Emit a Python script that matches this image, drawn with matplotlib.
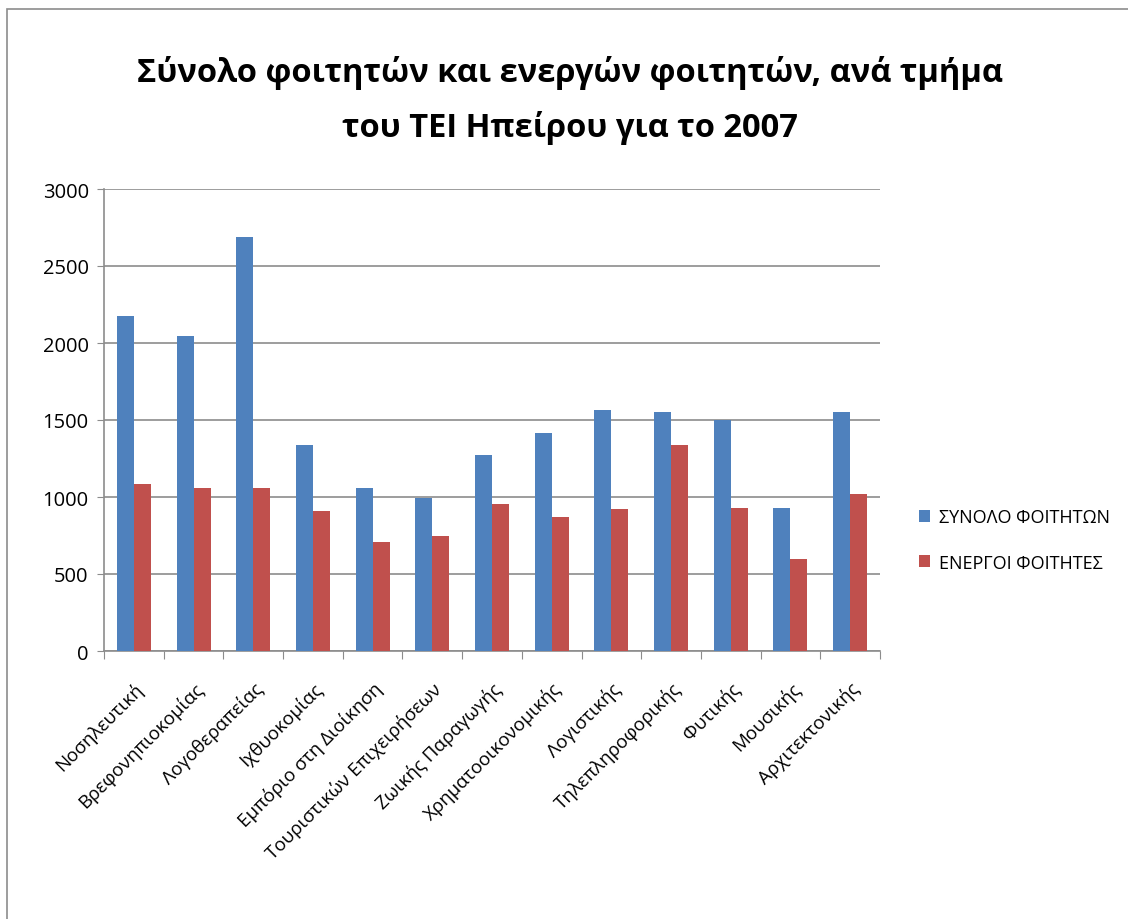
import numpy as np
import matplotlib
matplotlib.use('Agg')
import matplotlib.pyplot as plt
from matplotlib.patches import Rectangle

plt.rcParams['font.family'] = ['Open Sans', 'DejaVu Sans']

departments = ['Νοσηλευτική', 'Βρεφονηπιοκομίας', 'Λογοθεραπείας', 'Ιχθυοκομίας',
               'Εμπόριο στη Διοίκηση', 'Τουριστικών Επιχειρήσεων', 'Ζωικής Παραγωγής',
               'Χρηματοοικονομικής', 'Λογιστικής', 'Τηλεπληροφορικής', 'Φυτικής',
               'Μουσικής', 'Αρχιτεκτονικής']
total_students = [2177, 2046, 2688, 1339, 1057, 995, 1273, 1417, 1567, 1554, 1498, 926, 1554]
active_students = [1083, 1057, 1057, 906, 710, 749, 952, 867, 920, 1339, 926, 598, 1017]
series_names = ['ΣΥΝΟΛΟ ΦΟΙΤΗΤΩΝ', 'ΕΝΕΡΓΟΙ ΦΟΙΤΗΤΕΣ']

fig = plt.figure(figsize=(11.28, 9.2), dpi=100)
ax = fig.add_axes([104/1128, 1 - 652/920, 776/1128, 462/920])

x = np.arange(len(departments))
w = 0.285
ax.bar(x - w/2, total_students, w, color='#4F81BD', label=series_names[0], zorder=3)
ax.bar(x + w/2, active_students, w, color='#C0504D', label=series_names[1], zorder=3)

ax.set_xlim(-0.5, len(departments) - 0.5)
ax.set_ylim(0, 3000)
ax.set_yticks(range(0, 3001, 500))
ax.yaxis.grid(True, color='#8c8c8c', linewidth=1.2, zorder=0)
ax.tick_params(axis='y', labelsize=14.5, length=5, color='#8c8c8c', pad=6)

# category boundaries get the tick marks, labels sit at the centers
ax.set_xticks(np.arange(-0.5, len(departments)), minor=False)
ax.set_xticklabels([])
ax.set_xticks(x, minor=True)
ax.set_xticklabels(departments, minor=True, rotation=45, ha='right',
                   rotation_mode='anchor', fontsize=13.5)
ax.tick_params(axis='x', which='major', length=6, color='#8c8c8c')
ax.tick_params(axis='x', which='minor', length=0, pad=20)

for s in ['top', 'right']:
    ax.spines[s].set_visible(False)
for s in ['left', 'bottom']:
    ax.spines[s].set_color('#8c8c8c')
    ax.spines[s].set_linewidth(1.2)

fig.text(0.505, 0.891, 'Σύνολο φοιτητών και ενεργών φοιτητών, ανά τμήμα\nτου ΤΕΙ Ηπείρου για το 2007',
         ha='center', va='center', fontsize=23.5, fontweight='bold', linespacing=1.8)

fig.legend(loc='center left', bbox_to_anchor=(0.8, 0.412), frameon=False,
           fontsize=13, handlelength=0.65, handleheight=0.65, labelspacing=1.5,
           handletextpad=0.45)

fig.patches.append(Rectangle((7/1128, -0.1), 1.2, 1.1 - 10/920, transform=fig.transFigure,
                             fill=False, edgecolor='#8c8c8c', linewidth=1.2))

fig.savefig('out.png', dpi=100)
